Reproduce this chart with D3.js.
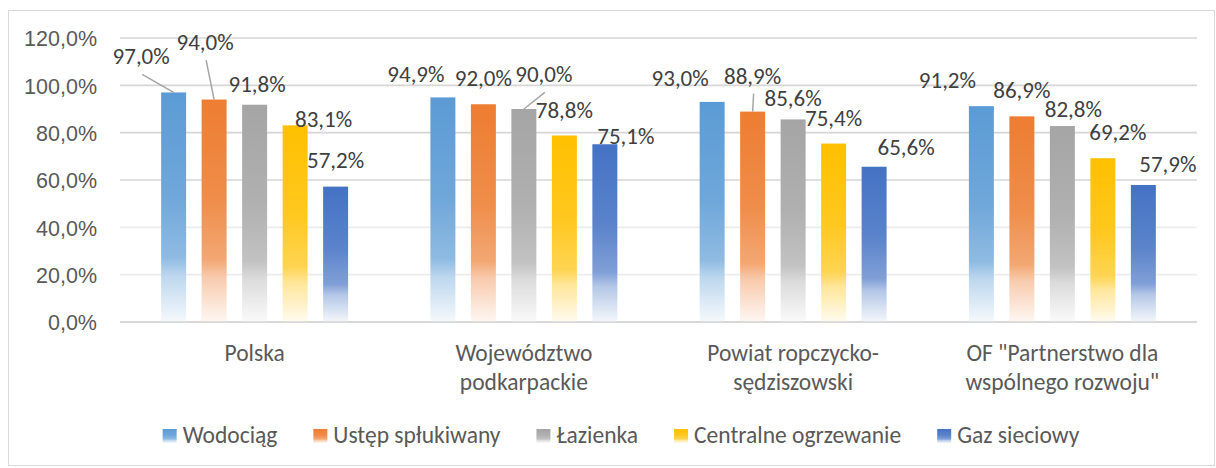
<!DOCTYPE html>
<html>
<head>
<meta charset="utf-8">
<script src="https://cdn.jsdelivr.net/npm/d3@7/dist/d3.min.js"></script>
<style>
  html, body { margin: 0; padding: 0; background: #fff; }
  svg { display: block; font-family: Carlito, Calibri, Lato, "Open Sans", sans-serif; }
</style>
</head>
<body>
<svg id="chart" width="1216" height="468"></svg>
<script>
// Share of dwellings equipped with installations (%)
const categories = [
  "Polska",
  "Województwo\npodkarpackie",
  "Powiat ropczycko-\nsędziszowski",
  "OF \"Partnerstwo dla\nwspólnego rozwoju\""
];
const series = ["Wodociąg", "Ustęp spłukiwany", "Łazienka", "Centralne ogrzewanie", "Gaz sieciowy"];
const wodociag       = [97.0, 94.9, 93.0, 91.2];
const ustep          = [94.0, 92.0, 88.9, 86.9];
const lazienka       = [91.8, 90.0, 85.6, 82.8];
const ogrzewanie     = [83.1, 78.8, 75.4, 69.2];
const gaz            = [57.2, 75.1, 65.6, 57.9];
const yTicks = [0, 20, 40, 60, 80, 100, 120];

// Layout: manual offsets (px) of the value labels from their default spot above each bar
const labelShift = [
  [[-32.5, -10], [-9, -31.5], [2.5, 5], [28.5, 20], [0, -1]],
  [[-27, 3], [0, 0], [20, -8.6], [0, 0], [21, 18]],
  [[-32, 2.5], [0, -10], [0, 5], [0, 0], [32, 6]],
  [[-34, 0], [0, 0], [11, 9.4], [15, 0], [24.5, 4.6]]
];

const colors = ["#5B9BD5", "#ED7D31", "#A5A5A5", "#FFC000", "#4472C4"];
const values = [wodociag, ustep, lazienka, ogrzewanie, gaz];
const textColor = "#595959";
const axisSize = "21.5px";
const numSize = "23px";
const wordSize = "23.5px";
const fmt = v => d3.format(".1f")(v).replace(".", ",") + "%";

const svg = d3.select("#chart");
const plot = { left: 120, right: 1197, top: 38, bottom: 322 };

// Outer frame
svg.append("rect")
  .attr("x", 8.5).attr("y", 10.5).attr("width", 1206).attr("height", 455)
  .attr("fill", "#fff").attr("stroke", "#D9D9D9").attr("stroke-width", 1);

// Gradients: solid at the top, fading to white at the base
const defs = svg.append("defs");
const mix = (c, t) => d3.interpolateRgb(c, "#ffffff")(t);
colors.forEach((c, i) => {
  const g = defs.append("linearGradient").attr("id", "grad" + i)
    .attr("x1", 0).attr("y1", 0).attr("x2", 0).attr("y2", 1);
  [[0, 0], [0.45, 0.12], [0.72, 0.32], [0.8, 0.6], [1, 0.94]].forEach(([o, t]) => {
    g.append("stop").attr("offset", o).attr("stop-color", mix(c, t));
  });
});

const y = d3.scaleLinear().domain([0, 120]).range([plot.bottom, plot.top]);
const x0 = d3.scaleBand().domain(categories).range([plot.left, plot.right]).padding(0);
const x1 = d3.scaleBand().domain(series).range([0, x0.bandwidth()])
  .paddingInner(0.383).paddingOuter(1.016);

// Horizontal gridlines
svg.append("g").selectAll("line").data(yTicks).join("line")
  .attr("x1", plot.left).attr("x2", plot.right)
  .attr("y1", d => y(d)).attr("y2", d => y(d))
  .attr("stroke", d => (d === 20 || d === 40) ? "#EDEDED" : "#D6D6D6")
  .attr("stroke-width", 1.6);

// Y axis labels
const yAxis = svg.append("g")
  .attr("transform", `translate(${plot.left},0)`)
  .call(d3.axisLeft(y).tickValues(yTicks).tickSize(0).tickPadding(23).tickFormat(fmt));
yAxis.select(".domain").remove();
yAxis.selectAll("text")
  .attr("fill", textColor).style("font-size", axisSize)
  .attr("font-family", null).attr("dy", "0.36em");

// Bars
const groups = svg.append("g").selectAll("g").data(categories).join("g")
  .attr("transform", d => `translate(${x0(d)},0)`);

groups.each(function (cat, ci) {
  const g = d3.select(this);
  series.forEach((s, si) => {
    const v = values[si][ci];
    g.append("rect")
      .attr("x", x1(s)).attr("width", x1.bandwidth())
      .attr("y", y(v)).attr("height", y(0) - y(v))
      .attr("fill", `url(#grad${si})`);
  });
});

// Baseline axis
svg.append("line")
  .attr("x1", plot.left).attr("x2", plot.right)
  .attr("y1", y(0)).attr("y2", y(0))
  .attr("stroke", "#D6D6D6").attr("stroke-width", 1.6);

// Value labels (with leader lines when lifted away from the bar)
groups.each(function (cat, ci) {
  const g = d3.select(this);
  series.forEach((s, si) => {
    const v = values[si][ci];
    const [dx, dy] = labelShift[ci][si];
    const cx = x1(s) + x1.bandwidth() / 2;
    const lx = cx + dx;
    const ly = y(v) - 18 + dy;
    if (dy < -5) {
      g.append("line")
        .attr("x1", lx + 1).attr("y1", ly + 10)
        .attr("x2", cx).attr("y2", y(v))
        .attr("stroke", "#A6A6A6").attr("stroke-width", 1.5);
    }
    g.append("text")
      .attr("x", lx).attr("y", ly)
      .attr("text-anchor", "middle")
      .attr("fill", "#404040").style("font-size", numSize)
      .text(fmt(v));
  });
});

// Category labels
svg.append("g").selectAll("text").data(categories).join("text")
  .attr("x", d => x0(d) + x0.bandwidth() / 2)
  .attr("y", 361)
  .attr("text-anchor", "middle")
  .attr("fill", textColor).style("font-size", wordSize)
  .each(function (d) {
    d.split("\n").forEach((line, i) => {
      d3.select(this).append("tspan")
        .attr("x", x0(d) + x0.bandwidth() / 2)
        .attr("dy", i === 0 ? 0 : 29)
        .text(line);
    });
  });

// Legend
const legend = svg.append("g");
const items = legend.selectAll("g").data(series).join("g");
items.append("rect")
  .attr("width", 14).attr("height", 14).attr("y", 429)
  .attr("fill", (d, i) => `url(#grad${i})`);
items.append("text")
  .attr("x", 20).attr("y", 443)
  .attr("fill", textColor).style("font-size", wordSize)
  .text(d => d);
let cursor = 0;
items.each(function () {
  const w = this.querySelector("text").getComputedTextLength();
  this.__x = cursor;
  cursor += 20 + w + 36;
});
const totalW = cursor - 36;
const startX = 621 - totalW / 2;
items.attr("transform", function () { return `translate(${startX + this.__x},0)`; });
</script>
</body>
</html>
